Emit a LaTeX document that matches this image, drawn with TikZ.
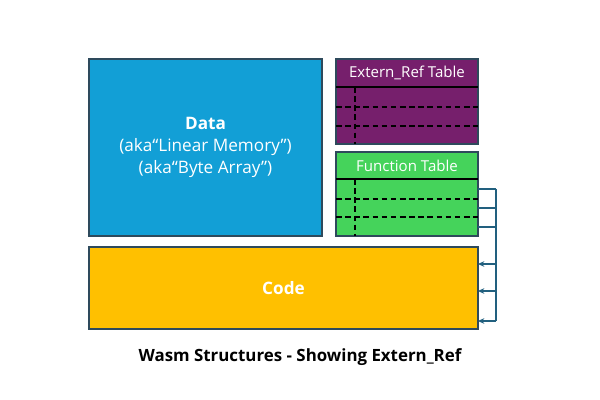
\documentclass[tikz,border=0pt]{standalone}
\usepackage{fontspec}
\setmainfont{Open Sans}
\usetikzlibrary{arrows.meta}
\definecolor{datablue}{HTML}{129FD6}
\definecolor{refpurple}{HTML}{761F6C}
\definecolor{funcgreen}{HTML}{45D35B}
\definecolor{codeorange}{HTML}{FFC000}
\definecolor{edge}{HTML}{2E4A5C}
\definecolor{wire}{HTML}{22607F}
\tikzset{
  block/.style={draw=edge,line width=0.8pt,inner sep=0pt,outer sep=0pt,text=white},
  rowline/.style={black,line width=0.8pt,dashed,dash pattern=on 4pt off 2.5pt},
  wireline/.style={wire,line width=0.8pt}
}
\begin{document}
\begin{tikzpicture}[x=0.025cm,y=-0.025cm]
            \useasboundingbox (0,0) rectangle (600,400);
            % data
            \node[block,fill=datablue,minimum width=5.825cm,minimum height=4.425cm,
                  align=center,font=\fontsize{12.2}{15.5}\selectfont] (data) at (205.5,147.5)
                  {\textbf{Data}\\(aka“Linear Memory”)\\(aka“Byte Array”)};
            % extern_ref table
            \node[block,fill=refpurple,minimum width=3.55cm,minimum height=2.125cm] (ext) at (407,101.5){};
            \node[text=white,font=\fontsize{10.7}{12}\selectfont] (exttitle) at (407,73){Extern\_Ref Table};
            \draw[line width=0.8pt,black] (336,87)--(478,87);
            \foreach \y in {107,126}{
                \draw[rowline] (336,\y)--(478,\y);
            }
            \draw[rowline] (355,87)--(355,144);
            % function table
            \node[block,fill=funcgreen,minimum width=3.55cm,minimum height=2.1cm] (func) at (407,194){};
            \node[text=white,font=\fontsize{10.7}{12}\selectfont] (functitle) at (407,165.5){Function Table};
            \draw[line width=0.8pt,black] (336,179)--(478,179);
            \foreach \y in {199,217}{
                \draw[rowline] (336,\y)--(478,\y);
            }
            \draw[rowline] (355,179)--(355,236);
            % code
            \node[block,fill=codeorange,minimum width=9.725cm,minimum height=2.05cm,
                  font=\fontsize{12.2}{14}\selectfont] (code) at (283.5,288){\textbf{Code}};
            % links
            \coordinate (bus) at (496,0);
            \foreach \y [count=\i] in {189,208,227}{
                \coordinate (f\i) at (478,\y);
                \draw[wireline] (f\i)--(f\i -| bus);
            }
            \foreach \y [count=\i] in {264,291,321}{
                \coordinate (c\i) at (478,\y);
                \draw[wireline,-{Stealth[length=4.5pt,width=4pt]}] (c\i -| bus)--(c\i);
            }
            \draw[wireline] (f1 -| bus)--(c3 -| bus);
            % caption
            \node[font=\fontsize{12}{14}\selectfont\bfseries] (caption) at (300,357){Wasm Structures - Showing Extern\_Ref};
        \end{tikzpicture}
\end{document}
